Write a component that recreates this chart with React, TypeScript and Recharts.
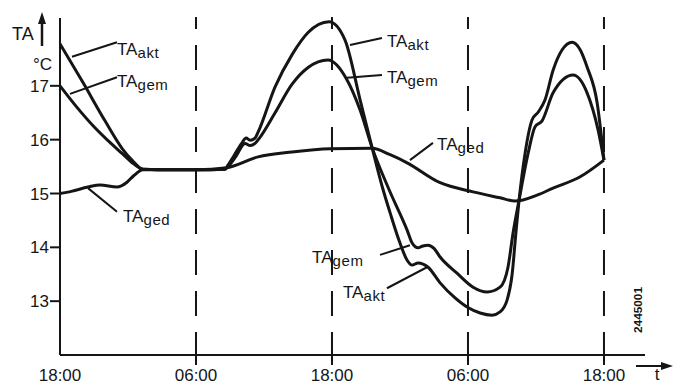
import React from 'react';
import { LineChart, Line, XAxis, YAxis, ReferenceLine, ReferenceDot } from 'recharts';

const FONT = '"Liberation Sans", Arial, Helvetica, sans-serif';
const INK = '#151515';

// Time axis: hours elapsed since 18:00 on the first evening.
const xTickHours = [0, 12, 24, 36, 48];
const xTickLabels = ['18:00', '06:00', '18:00', '06:00', '18:00'];
const dayBoundaries = [12, 24, 36, 48];
const yTicks = [13, 14, 15, 16, 17];

// TA akt – actual outside temperature (°C)
const aktHours = [0, 2.03, 3.97, 5.47, 6.35, 7.33, 10, 12, 14.56, 14.74, 15.4, 16.06, 16.42, 16.77, 17.21, 17.48, 18.98, 20.48, 21.89, 23.74, 25.15, 26.48, 27.54, 28.51, 29.13, 30.0, 30.63, 31.07, 31.6, 32.48, 33.54, 34.86, 35.92, 37.07, 38.13, 38.83, 39.45, 39.89, 40.25, 40.51, 41.04, 41.66, 42.19, 42.8, 43.51, 44.31, 45.19, 45.9, 46.51, 47.4, 48];
const aktTemps = [17.78, 17.06, 16.35, 15.84, 15.62, 15.45, 15.44, 15.44, 15.45, 15.5, 15.72, 15.94, 16.03, 15.99, 16.03, 16.14, 16.98, 17.58, 17.99, 18.19, 17.85, 16.74, 15.85, 15.07, 14.64, 14.08, 13.76, 13.67, 13.71, 13.63, 13.34, 13.06, 12.89, 12.78, 12.74, 12.8, 13.02, 13.49, 14.32, 14.88, 15.75, 16.37, 16.51, 16.74, 17.29, 17.67, 17.81, 17.67, 17.35, 16.68, 15.62];

// TA gem – mixed (averaged) outside temperature (°C)
const gemHours = [0, 1.5, 3, 4.5, 5.5, 6.5, 7.33, 10, 12, 14.56, 14.74, 15.5, 16.33, 16.77, 17.21, 17.6, 18.98, 20.48, 21.89, 23.65, 25.33, 26.48, 27.54, 29.04, 30.63, 31.07, 31.6, 31.95, 32.48, 33.0, 33.54, 35.03, 36.45, 37.69, 38.83, 39.53, 39.98, 40.51, 41.31, 41.92, 42.54, 43.51, 45.28, 46.51, 47.48, 48];
const gemTemps = [17.0, 16.6, 16.24, 15.93, 15.74, 15.55, 15.45, 15.44, 15.44, 15.45, 15.48, 15.68, 15.93, 15.89, 15.93, 16.03, 16.5, 17.03, 17.34, 17.48, 17.11, 16.55, 15.85, 15.07, 14.32, 14.08, 13.99, 14.02, 14.04, 13.98, 13.82, 13.52, 13.26, 13.17, 13.26, 13.63, 14.27, 14.88, 15.75, 16.24, 16.35, 16.87, 17.2, 16.87, 16.18, 15.62];

// TA ged – damped outside temperature (°C)
const gedHours = [0, 1.0, 2.47, 3.53, 5.03, 5.91, 6.5, 7.33, 10, 12, 14.74, 17.48, 20.48, 23.83, 27.54, 29.13, 30.63, 33.54, 36.45, 38.83, 40.16, 42.1, 43.51, 45.9, 48];
const gedTemps = [15.0, 15.04, 15.12, 15.16, 15.12, 15.21, 15.33, 15.44, 15.44, 15.44, 15.48, 15.68, 15.77, 15.83, 15.84, 15.72, 15.57, 15.2, 15.03, 14.92, 14.86, 14.97, 15.1, 15.31, 15.62];

type Pt = { t: number; v: number };
const toPoints = (hours: number[], temps: number[]): Pt[] =>
  hours.map((t, i) => ({ t, v: temps[i] }));

const aktData = toPoints(aktHours, aktTemps);
const gemData = toPoints(gemHours, gemTemps);
const gedData = toPoints(gedHours, gedTemps);

// Curve captions (anchor in hours / °C) and their leader lines.
type Caption = { sub: string; t: number; v: number; from: [number, number]; to: [number, number] };
const captions: Caption[] = [
  { sub: 'akt', t: 5.03, v: 17.57, from: [1.06, 17.54], to: [5.03, 17.81] },
  { sub: 'gem', t: 5.03, v: 16.98, from: [0.88, 16.85], to: [5.03, 17.16] },
  { sub: 'ged', t: 5.56, v: 14.47, from: [2.47, 15.1], to: [5.03, 14.66] },
  { sub: 'akt', t: 28.85, v: 17.72, from: [25.59, 17.76], to: [28.41, 17.89] },
  { sub: 'gem', t: 28.85, v: 17.05, from: [25.32, 17.15], to: [28.41, 17.2] },
  { sub: 'ged', t: 33.27, v: 15.81, from: [30.88, 15.62], to: [32.91, 15.94] },
  { sub: 'gem', t: 22.24, v: 13.71, from: [28.24, 13.86], to: [30.88, 14.04] },
  { sub: 'akt', t: 24.97, v: 13.06, from: [28.85, 13.24], to: [32.38, 13.63] },
];

const CaptionText = ({ cx, cy, sub }: { cx: number; cy: number; sub: string }) => (
  <text x={cx} y={cy} fontFamily={FONT} fill={INK}>
    <tspan fontSize={17}>TA</tspan>
    <tspan fontSize={15} dy={3} letterSpacing={0.6}>{sub}</tspan>
  </text>
);

const XTick = (props: any) => {
  const { x, y, payload, index } = props;
  return (
    <g>
      {payload.value > 0 && (
        <line x1={x} y1={y} x2={x} y2={y + 10} stroke={INK} strokeWidth={2} />
      )}
      <text x={x} y={y + 26} textAnchor="middle" fontSize={17} fontFamily={FONT} fill={INK}>
        {xTickLabels[index]}
      </text>
    </g>
  );
};

const DashedDivider = (props: any) => {
  const { x1, y1, y2 } = props;
  const bottom = Math.max(y1, y2);
  const top = Math.min(y1, y2);
  return (
    <line
      x1={x1}
      x2={x1}
      y1={bottom}
      y2={top - 1}
      stroke={INK}
      strokeWidth={2}
      strokeDasharray="25 16"
      strokeDashoffset={2}
    />
  );
};

export default function App() {
  return (
    <div style={{ position: 'absolute', left: 0, top: 0, width: 673, height: 385, background: '#fff' }}>
      <LineChart
        width={673}
        height={385}
        margin={{ top: 18, right: 28, bottom: 0, left: 0 }}
        style={{ fontFamily: FONT }}
      >
        <XAxis
          type="number"
          dataKey="t"
          domain={[0, 51.62]}
          ticks={xTickHours}
          allowDataOverflow
          height={30}
          tickSize={0}
          tickMargin={0}
          tickLine={false}
          tick={<XTick />}
          axisLine={{ stroke: INK, strokeWidth: 2 }}
        />
        <YAxis
          type="number"
          domain={[12, 18.26]}
          ticks={yTicks}
          allowDataOverflow
          width={60}
          tickSize={10}
          tickMargin={1}
          tickLine={{ stroke: INK, strokeWidth: 2 }}
          axisLine={{ stroke: INK, strokeWidth: 2 }}
          tick={{ fontSize: 17, fill: INK, fontFamily: FONT }}
        />
        {dayBoundaries.map((h) => (
          <ReferenceLine key={`d${h}`} x={h} ifOverflow="visible" shape={<DashedDivider />} />
        ))}
        {captions.map((c, i) => (
          <ReferenceLine
            key={`l${i}`}
            segment={[{ x: c.from[0], y: c.from[1] }, { x: c.to[0], y: c.to[1] }]}
            stroke={INK}
            strokeWidth={2}
            ifOverflow="visible"
          />
        ))}
        <Line data={gedData} dataKey="v" type="monotone" stroke={INK} strokeWidth={3} dot={false} isAnimationActive={false} />
        <Line data={gemData} dataKey="v" type="monotone" stroke={INK} strokeWidth={3} dot={false} isAnimationActive={false} />
        <Line data={aktData} dataKey="v" type="monotone" stroke={INK} strokeWidth={3} dot={false} isAnimationActive={false} />
        {captions.map((c, i) => (
          <ReferenceDot
            key={`c${i}`}
            x={c.t}
            y={c.v}
            r={0}
            ifOverflow="visible"
            shape={(p: any) => <CaptionText cx={p.cx} cy={p.cy} sub={c.sub} />}
          />
        ))}
      </LineChart>
      <svg
        width={673}
        height={385}
        style={{ position: 'absolute', left: 0, top: 0, pointerEvents: 'none' }}
      >
        {/* axis arrows and axis titles */}
        <line x1={42} y1={46} x2={42} y2={20} stroke={INK} strokeWidth={2.5} />
        <polygon points="42,12 38,24 46,24" fill={INK} />
        <text x={12} y={40} fontSize={18} fontFamily={FONT} fill={INK}>TA</text>
        <text x={52} y={70} textAnchor="end" fontSize={17} fontFamily={FONT} fill={INK}>°C</text>
        <line x1={636} y1={366} x2={663} y2={366} stroke={INK} strokeWidth={2} />
        <polygon points="673,366 661,362 661,370" fill={INK} />
        <text x={657} y={380} textAnchor="middle" fontSize={17} fontFamily={FONT} fill={INK}>t</text>
        <text
          x={0}
          y={0}
          transform="translate(642 310) rotate(-90)"
          textAnchor="middle"
          fontSize={10}
          fontWeight="bold"
          fontFamily={FONT}
          fill={INK}
          textLength={46}
          lengthAdjust="spacingAndGlyphs"
        >
          2445001
        </text>
      </svg>
    </div>
  );
}
